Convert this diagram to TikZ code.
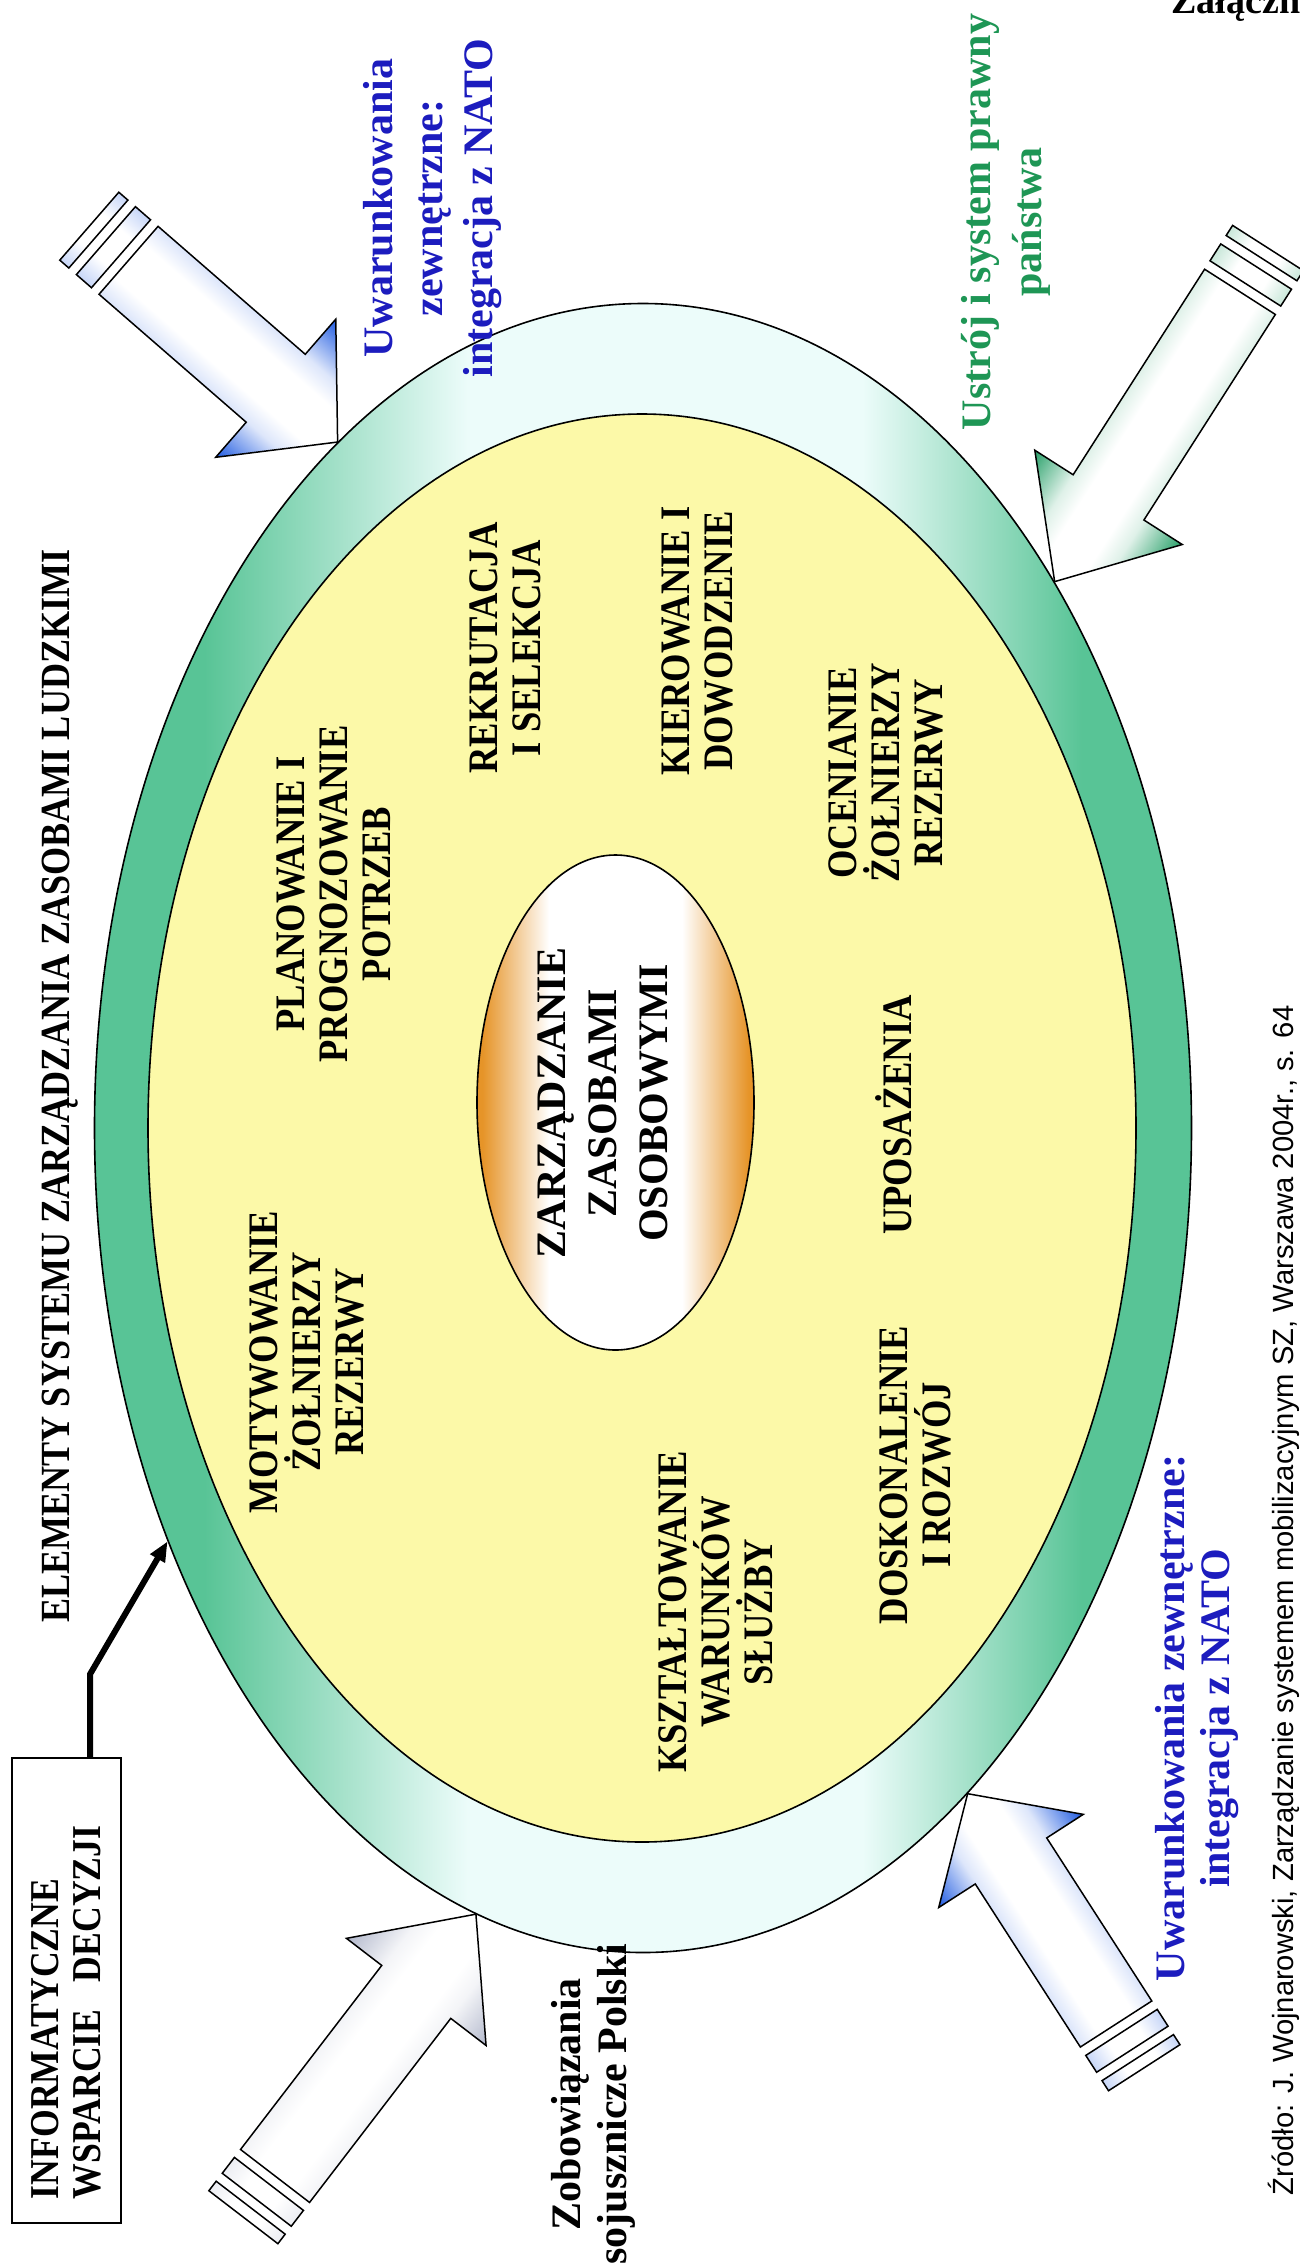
\documentclass[tikz,border=0pt]{standalone}
\usepackage{fontspec}
\setmainfont{Liberation Serif}
\setsansfont{Liberation Sans}
\newfontfamily\condserif{Liberation Serif}[FakeStretch=0.87]
\usetikzlibrary{shapes.geometric, arrows.meta}

\definecolor{bandgreen}{RGB}{88,196,150}
\definecolor{bandwhite}{RGB}{236,252,250}
\definecolor{inneryellow}{RGB}{252,249,168}
\definecolor{eggorange}{RGB}{230,148,40}
\definecolor{natoblue}{RGB}{28,28,190}
\definecolor{lawgreen}{RGB}{30,150,85}
\definecolor{arrowblue}{RGB}{30,90,225}
\definecolor{arrowgreen}{RGB}{40,160,105}
\definecolor{arrowgrey}{RGB}{178,184,204}
\colorlet{arrowtint}{arrowblue}

\pgfdeclarehorizontalshading{bandshade}{100bp}{color(0bp)=(bandgreen); color(30bp)=(bandgreen); color(42bp)=(bandwhite); color(60bp)=(bandwhite); color(70bp)=(bandgreen); color(100bp)=(bandgreen)}
\pgfdeclarehorizontalshading{eggshade}{100bp}{color(0bp)=(eggorange); color(26bp)=(eggorange); color(38bp)=(white); color(62bp)=(white); color(74bp)=(eggorange); color(100bp)=(eggorange)}
\pgfdeclareverticalshading[arrowtint]{arrowshade}{100bp}{color(0bp)=(arrowtint); color(25bp)=(arrowtint); color(31bp)=(arrowtint!60!white); color(38bp)=(arrowtint!15!white); color(44bp)=(white); color(56bp)=(white); color(62bp)=(arrowtint!15!white); color(69bp)=(arrowtint!60!white); color(75bp)=(arrowtint); color(100bp)=(arrowtint)}
\pgfdeclareverticalshading[arrowtint]{stripshade}{100bp}{color(0bp)=(arrowtint!25!white); color(25bp)=(arrowtint!25!white); color(40bp)=(white); color(60bp)=(white); color(75bp)=(arrowtint!25!white); color(100bp)=(arrowtint!25!white)}

% block arrow: tip, angle, head length, head width, shaft width, shaft length, colour
\newcommand{\blockarrow}[7]{%
  \colorlet{arrowtint}{#7}%
  \begin{scope}[transform canvas={shift={#1}, rotate=#2}]
    \draw[arrowrim, shade, shading=arrowshade]
      (0,0) -- (-#3,#4/2) -- (-#3,#5/2) -- (-#3-#6,#5/2) -- (-#3-#6,-#5/2)
      -- (-#3,-#5/2) -- (-#3,-#4/2) -- cycle;
    \draw[arrowrim, shade, shading=stripshade] (-#3-#6-10,#5/2) rectangle (-#3-#6-30,-#5/2);
    \draw[arrowrim, shade, shading=stripshade] (-#3-#6-40,#5/2) rectangle (-#3-#6-52,-#5/2);
  \end{scope}}

\begin{document}
\begin{tikzpicture}[%
    x=1pt, y=-1pt,
    rim/.style={ellipse, draw, line width=1.6, inner sep=0pt},
    item/.style={rotate=90, align=center, font=\condserif\bfseries\fontsize{42}{43}\selectfont},
    side/.style={rotate=90, align=center, font=\bfseries\fontsize{42}{#1}\selectfont},
    infolink/.style={line width=6, -{Triangle[length=20pt,width=16pt]}},
    arrowrim/.style={line width=1.5, line join=miter}
  ]
  \fill[white] (0,0) rectangle (1300,2268);
  \useasboundingbox (0,0) rectangle (1300,2268);

  \node[rim, minimum width=1097, minimum height=1649, shade, shading=bandshade] (outer) at (643,1128) {};
  \node[rim, minimum width=988, minimum height=1428, fill=inneryellow] (inner) at (642,1128) {};
  \node[rim, minimum width=277, minimum height=495, shade, shading=eggshade] (core) at (615.5,1102.5) {};
  \node[rotate=90, align=center, font=\bfseries\fontsize{42}{51}\selectfont] (coretext) at (602.5,1103) {ZARZĄDZANIE\\ZASOBAMI\\OSOBOWYMI};

  \node[item] (plan) at (333.5,894) {PLANOWANIE I\\PROGNOZOWANIE\\POTRZEB};
  \node[item] (motyw) at (306.5,1362) {MOTYWOWANIE\\ŻOŁNIERZY\\REZERWY};
  \node[item] (rekrut) at (505.5,648) {REKRUTACJA\\I SELEKCJA};
  \node[item] (kierow) at (697,641) {KIEROWANIE I\\DOWODZENIE};
  \node[item] (ocen) at (885.5,773) {OCENIANIE\\ŻOŁNIERZY\\REZERWY};
  \node[item] (uposaz) at (894,1115) {UPOSAŻENIA};
  \node[item] (doskon) at (915,1475) {DOSKONALENIE\\I ROZWÓJ};
  \node[item] (ksztal) at (716,1612) {KSZTAŁTOWANIE\\WARUNKÓW\\SŁUŻBY};

  \node[rotate=90, font=\condserif\bfseries\fontsize{41.5}{45}\selectfont] (title) at (60,1086) {ELEMENTY SYSTEMU ZARZĄDZANIA ZASOBAMI LUDZKIMI};

  \node[side=50, text=natoblue] (natotop) at (433,208) {Uwarunkowania\\zewnętrzne:\\integracja z NATO};
  \node[side=51, text=lawgreen] (law) at (1006,222) {Ustrój i system prawny\\państwa};
  \node[side=45, text=natoblue] (natobottom) at (1197.5,1718) {Uwarunkowania zewnętrzne:\\integracja z NATO};
  \node[side=46] (allies) at (593.5,2104) {Zobowiązania\\sojusznicze Polski};

  \node[draw, line width=1.5, rotate=90, minimum width=465, minimum height=109, inner xsep=24pt, text width=417, align=left, font=\condserif\bfseries\fontsize{41}{42}\selectfont] (info) at (66.5,1990.5) {INFORMATYCZNE\\WSPARCIE\ \ DECYZJI};

  \node[rotate=90, anchor=base west, font=\sffamily\fontsize{29.2}{31}\selectfont] (source) at (1293,2199) {Źródło: J. Wojnarowski, Zarządzanie systemem mobilizacyjnym SZ, Warszawa 2004r., s. 64};
  \node[anchor=base west, font=\bfseries\fontsize{38}{40}\selectfont] (annex) at (1168,13) {Załączni};

  \blockarrow{(outer.114.7)}{-41}{82}{183}{90}{195}{arrowblue}
  \blockarrow{(outer.53.6)}{-122.6}{100}{175}{84}{244}{arrowgreen}
  \blockarrow{(outer.258.5)}{52.5}{98}{176}{87}{232}{arrowgrey}
  \blockarrow{(outer.296.3)}{122.8}{80}{172}{85}{194}{arrowblue}

  \draw[infolink] ([xshift=23.5pt]info.east) -- ++(0,-83) -- (outer.221.2);
\end{tikzpicture}
\end{document}
